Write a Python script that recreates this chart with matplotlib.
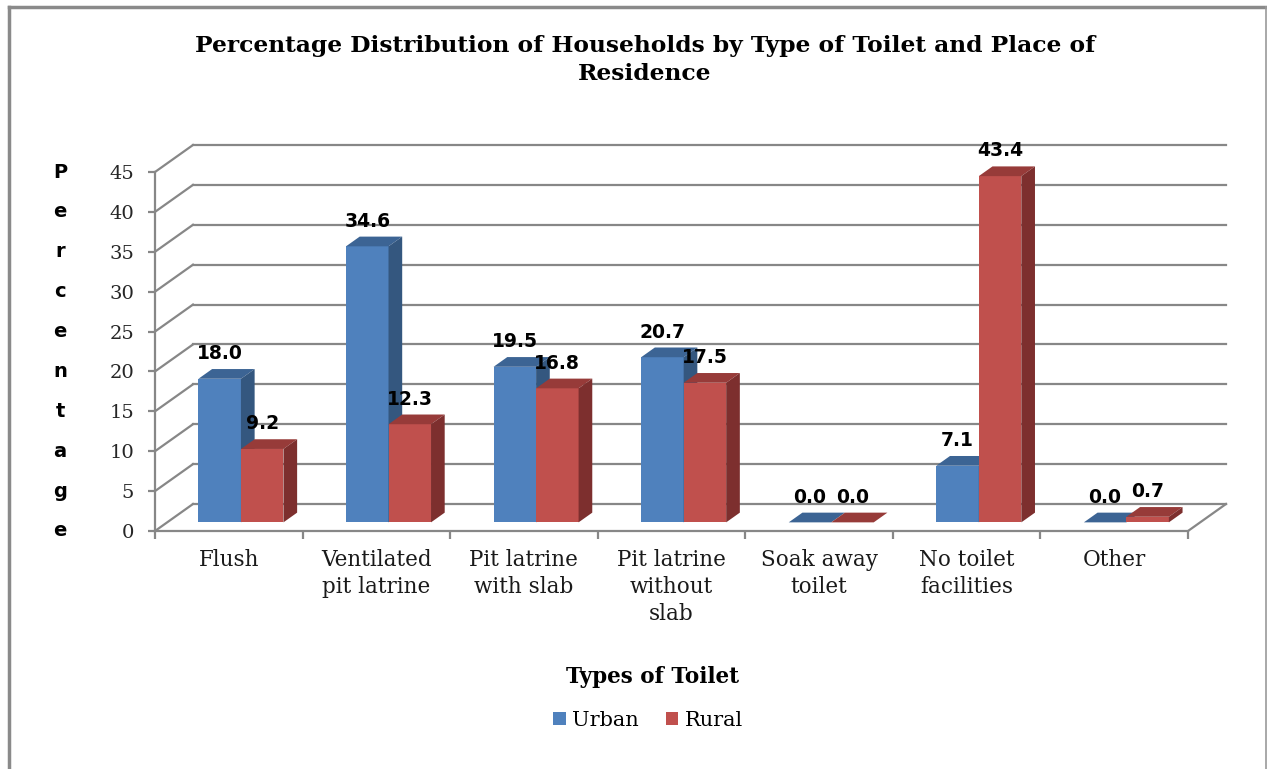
import matplotlib.pyplot as plt
from matplotlib.patches import Polygon, Patch
from matplotlib.lines import Line2D
import matplotlib.transforms as mtransforms

categories = ["Flush", "Ventilated\npit latrine", "Pit latrine\nwith slab",
              "Pit latrine\nwithout\nslab", "Soak away\ntoilet",
              "No toilet\nfacilities", "Other"]
urban = [18.0, 34.6, 19.5, 20.7, 0.0, 7.1, 0.0]
rural = [9.2, 12.3, 16.8, 17.5, 0.0, 43.4, 0.7]
series_names = ["Urban", "Rural"]
yticks = [0, 5, 10, 15, 20, 25, 30, 35, 40, 45]
ylabel_letters = list("Percentage")

# face colours: front, top, side
blue = ("#4F81BD", "#3C6494", "#34577F")
red = ("#C0504D", "#973B39", "#7D2F2E")
grid_col = "#878787"
serif = "DejaVu Serif"

W, H = 1267, 769
fig = plt.figure(figsize=(W / 100, H / 100), dpi=100)
x_left, x_right, y_zero, y_top = 155, 1188, 531, 172
ax = fig.add_axes([x_left / W, 1 - y_zero / H, (x_right - x_left) / W, (y_zero - y_top) / H])
ax.set_xlim(-0.5, 6.5)
ax.set_ylim(0, 45)
ax.patch.set_visible(False)

# pixel size of one data unit, used for the fake depth
ux = (x_right - x_left) / 7
uy = (y_zero - y_top) / 45
DX, DY = 38 / ux, 27 / uy
f0, f1 = 0.32, 0.68
bw = 42.5 / ux

# back wall gridlines and left wall slants
for v in yticks:
    ax.plot([-0.5, -0.5 + DX], [v, v + DY], color=grid_col, lw=1.6, zorder=1, clip_on=False)
    ax.plot([-0.5 + DX, 6.5 + DX], [v + DY, v + DY], color=grid_col, lw=1.6, zorder=1, clip_on=False)
ax.plot([6.5, 6.5 + DX], [0, DY], color=grid_col, lw=1.6, zorder=1, clip_on=False)

# 3d columns
b0 = f0 * DY
dbx, dby = (f1 - f0) * DX, (f1 - f0) * DY
for j, (vals, cols) in enumerate([(urban, blue), (rural, red)]):
    for i, v in enumerate(vals):
        x0 = i - bw + j * bw + f0 * DX
        z = 3 + 2 * j
        ax.bar(x0, v, width=bw, bottom=b0, align="edge", color=cols[0], zorder=z, clip_on=False)
        top = [(x0, b0 + v), (x0 + bw, b0 + v), (x0 + bw + dbx, b0 + v + dby), (x0 + dbx, b0 + v + dby)]
        side = [(x0 + bw, b0), (x0 + bw + dbx, b0 + dby), (x0 + bw + dbx, b0 + v + dby), (x0 + bw, b0 + v)]
        ax.add_patch(Polygon(top, closed=True, facecolor=cols[1], edgecolor="none", zorder=z + 1, clip_on=False))
        ax.add_patch(Polygon(side, closed=True, facecolor=cols[2], edgecolor="none", zorder=z + 1, clip_on=False))
        ax.text(x0 + bw / 2, b0 + v + dby + 6 / uy, f"{v:.1f}", ha="center", va="bottom",
                fontsize=13.5, fontweight="bold", family="DejaVu Sans", zorder=10)

# front axes
for s in ["top", "right"]:
    ax.spines[s].set_visible(False)
for s in ["left", "bottom"]:
    ax.spines[s].set_color(grid_col)
    ax.spines[s].set_linewidth(1.6)
ax.set_yticks(yticks)
ax.set_yticklabels([str(t) for t in yticks], family=serif, fontsize=14, color="#262626")
ax.tick_params(axis="y", length=5, width=1.6, color=grid_col, pad=10)
ax.set_xticks(range(7))
ax.set_xticklabels(categories, family=serif, fontsize=15.5, color="#1a1a1a", linespacing=1.3)
ax.set_xticks([i - 0.5 for i in range(8)], minor=True)
ax.tick_params(axis="x", which="major", length=0, pad=13)
ax.tick_params(axis="x", which="minor", length=6, width=1.6, color=grid_col)

# stacked y axis title
tr = mtransforms.blended_transform_factory(fig.transFigure, ax.transData)
for k, ch in enumerate(ylabel_letters):
    ax.text(60 / W, yticks[-1 - k], ch, transform=tr, ha="center", va="center",
            fontsize=14, fontweight="bold", family="DejaVu Sans")

fig.text(645 / W, 1 - 60 / H,
         "Percentage Distribution of Households by Type of Toilet and Place of\nResidence",
         ha="center", va="center", fontsize=16.8, fontweight="bold", family=serif, linespacing=1.3)
fig.text(652 / W, 1 - 677 / H, "Types of Toilet", ha="center", va="center",
         fontsize=15.5, fontweight="bold", family=serif)

handles = [Patch(facecolor=blue[0]), Patch(facecolor=red[0])]
fig.legend(handles, series_names, loc="center", bbox_to_anchor=(648 / W, 1 - 720 / H), ncol=2,
           frameon=False, prop={"family": serif, "size": 15}, handlelength=0.6, handleheight=0.6,
           handletextpad=0.3, columnspacing=1.3)

# chart border
fig.add_artist(Line2D([8.5 / W, 8.5 / W], [0, 1 - 7 / H], color="#8a8a8a", lw=2.5))
fig.add_artist(Line2D([8.5 / W, 1265.5 / W], [1 - 7 / H, 1 - 7 / H], color="#8a8a8a", lw=2.5))
fig.add_artist(Line2D([1265.5 / W, 1265.5 / W], [0, 1 - 7 / H], color="#9a9a9a", lw=1.2))

fig.savefig("out.png", dpi=100)
